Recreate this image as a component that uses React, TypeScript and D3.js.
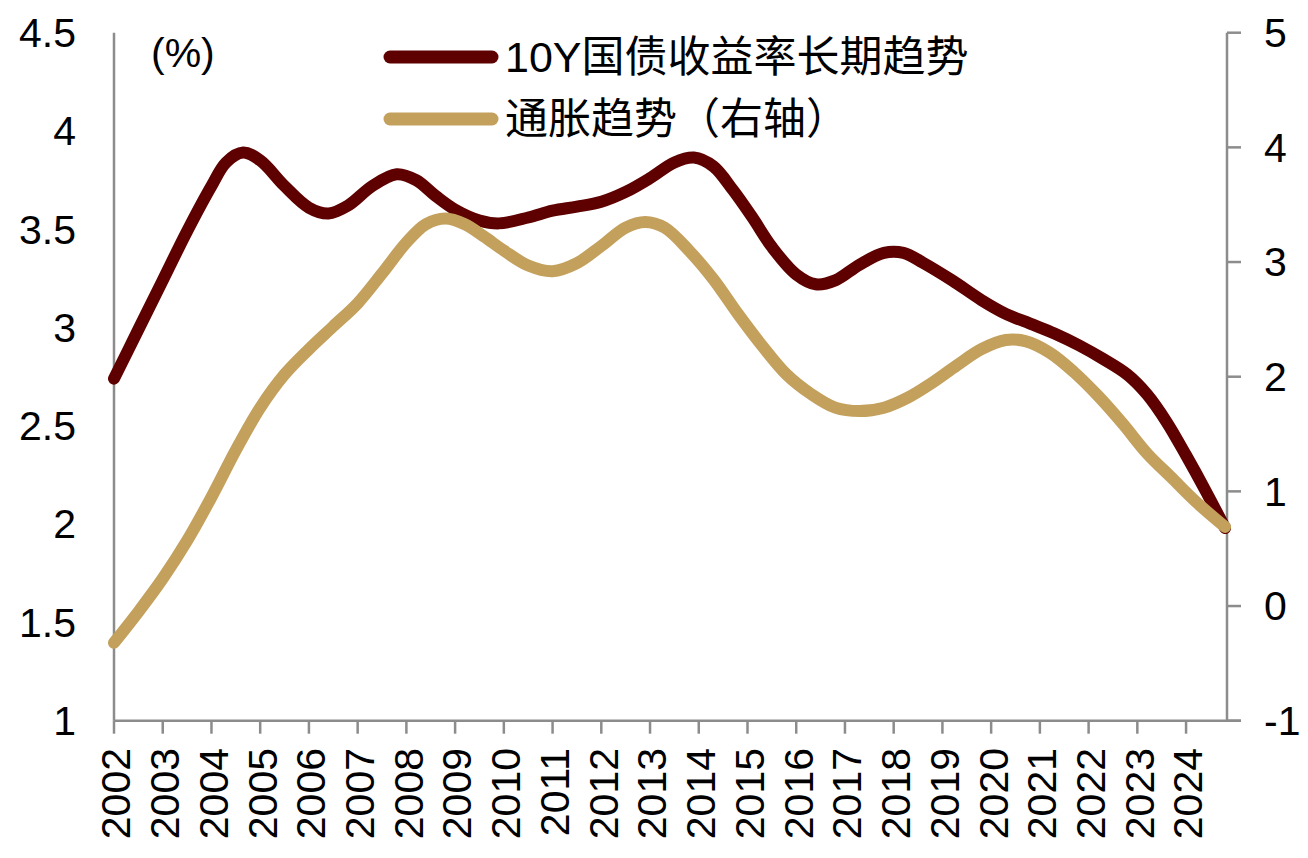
import React, { useEffect, useRef } from 'react';
import * as d3 from 'd3';

// 10Y government bond yield trend (left axis, %)
const yieldYears = [
  2002.0, 2002.5, 2003.0, 2003.5, 2004.0, 2004.3, 2004.65, 2005.0, 2005.5, 2006.0,
  2006.4, 2006.8, 2007.3, 2007.8, 2008.2, 2008.6, 2009.0, 2009.5, 2009.9, 2010.5,
  2011.0, 2011.5, 2012.0, 2012.5, 2013.0, 2013.5, 2013.9, 2014.3, 2014.7, 2015.1,
  2015.5, 2016.0, 2016.4, 2016.8, 2017.3, 2017.8, 2018.2, 2018.6, 2019.2, 2019.8,
  2020.3, 2020.8, 2021.3, 2021.8, 2022.3, 2022.8, 2023.2, 2023.6, 2024.0, 2024.4,
  2024.8,
];
const yieldValues = [
  2.74, 2.99, 3.24, 3.49, 3.72, 3.84, 3.89, 3.85, 3.72, 3.61,
  3.58, 3.62, 3.72, 3.78, 3.75, 3.67, 3.6, 3.545, 3.53, 3.56,
  3.595, 3.615, 3.64, 3.69, 3.76, 3.84, 3.865, 3.82, 3.7, 3.56,
  3.41, 3.27, 3.22, 3.24, 3.32, 3.38, 3.38, 3.33, 3.24, 3.14,
  3.07, 3.02, 2.97, 2.91, 2.84, 2.76, 2.66, 2.52, 2.35, 2.17,
  1.98,
];

// inflation trend (right axis)
const inflYears = [
  2002.0, 2002.5, 2003.0, 2003.5, 2004.0, 2004.5, 2005.0, 2005.5, 2006.0, 2006.5,
  2007.0, 2007.5, 2008.0, 2008.4, 2008.8, 2009.2, 2009.6, 2010.0, 2010.5, 2011.0,
  2011.5, 2012.0, 2012.5, 2012.9, 2013.3, 2013.8, 2014.3, 2014.8, 2015.3, 2015.8,
  2016.3, 2016.8, 2017.3, 2017.8, 2018.3, 2018.8, 2019.3, 2019.8, 2020.3, 2020.7,
  2021.2, 2021.7, 2022.2, 2022.7, 2023.2, 2023.7, 2024.2, 2024.8,
];
const inflValues = [
  -0.32, -0.05, 0.24, 0.57, 0.95, 1.36, 1.73, 2.02, 2.24, 2.44,
  2.64, 2.9, 3.17, 3.33, 3.38, 3.33, 3.22, 3.1, 2.97, 2.92,
  2.99, 3.14, 3.3, 3.35, 3.3, 3.1, 2.85, 2.55, 2.27, 2.02,
  1.85, 1.73, 1.7, 1.73, 1.82, 1.95, 2.1, 2.24, 2.32, 2.31,
  2.21, 2.04, 1.83, 1.59, 1.33, 1.12, 0.91, 0.69,
];

const yearTicks = d3.range(2002, 2025);
const leftTicks = [1, 1.5, 2, 2.5, 3, 3.5, 4, 4.5];
const rightTicks = [-1, 0, 1, 2, 3, 4, 5];

const legendLabels = ['10Y国债收益率长期趋势', '通胀趋势（右轴）'];
const colors = ['#5f0000', '#c3a05c'];

const FONT = '"Liberation Sans", Arial, "Noto Sans CJK SC", sans-serif';

export default function App() {
  const svgRef = useRef<SVGSVGElement>(null);

  useEffect(() => {
    if (!svgRef.current) return;
    const width = 1308;
    const height = 858;
    const svg = d3.select(svgRef.current)
      .attr('width', width)
      .attr('height', height)
      .style('font-family', FONT);
    svg.selectAll('*').remove();

    const left = 114, right = 1227, top = 32.7, bottom = 720.7;
    const x = d3.scaleLinear().domain([2002, 2024.84]).range([left, right]);
    const yL = d3.scaleLinear().domain([1, 4.5]).range([bottom, top]);
    const yR = d3.scaleLinear().domain([-1, 5]).range([bottom, top]);
    const axisColor = '#8c8c8c';

    // axes
    svg.append('line').attr('x1', left).attr('x2', left).attr('y1', top).attr('y2', bottom)
      .attr('stroke', axisColor).attr('stroke-width', 2.5);
    svg.append('line').attr('x1', right).attr('x2', right).attr('y1', top).attr('y2', bottom)
      .attr('stroke', axisColor).attr('stroke-width', 2.5);
    svg.append('line').attr('x1', left).attr('x2', right + 14).attr('y1', bottom).attr('y2', bottom)
      .attr('stroke', axisColor).attr('stroke-width', 2.5);

    // right ticks
    svg.selectAll('.rtick').data(rightTicks).enter().append('line')
      .attr('x1', right).attr('x2', right + 14)
      .attr('y1', d => yR(d)).attr('y2', d => yR(d))
      .attr('stroke', axisColor).attr('stroke-width', 2.5);
    svg.selectAll('.rlab').data(rightTicks).enter().append('text')
      .attr('x', 1264).attr('y', d => yR(d)).attr('dy', '0.35em')
      .style('font-size', '41px').attr('fill', '#000')
      .text(d => String(d));

    // left labels
    svg.selectAll('.llab').data(leftTicks).enter().append('text')
      .attr('x', 76).attr('y', d => yL(d)).attr('dy', '0.35em')
      .attr('text-anchor', 'end')
      .style('font-size', '41px').attr('fill', '#000')
      .text(d => String(d));

    // bottom ticks and labels
    svg.selectAll('.btick').data(yearTicks).enter().append('line')
      .attr('x1', d => x(d)).attr('x2', d => x(d))
      .attr('y1', bottom).attr('y2', bottom + 13)
      .attr('stroke', axisColor).attr('stroke-width', 2.5);
    svg.selectAll('.blab').data(yearTicks).enter().append('text')
      .attr('transform', d => `translate(${x(d) + 2},748) rotate(-90)`)
      .attr('text-anchor', 'end').attr('dy', '0.35em')
      .style('font-size', '41px').attr('fill', '#000')
      .text(d => String(d));

    // unit
    svg.append('text').attr('x', 151).attr('y', 67)
      .style('font-size', '41px').attr('fill', '#000').text('(%)');

    // lines
    const curve = d3.curveCatmullRom.alpha(0.5);
    const yieldLine = d3.line<number>()
      .x((_, i) => x(yieldYears[i]))
      .y(d => yL(d))
      .curve(curve);
    const inflLine = d3.line<number>()
      .x((_, i) => x(inflYears[i]))
      .y(d => yR(d))
      .curve(curve);

    svg.append('path').attr('d', yieldLine(yieldValues) as string)
      .attr('fill', 'none').attr('stroke', colors[0]).attr('stroke-width', 12)
      .attr('stroke-linejoin', 'round').attr('stroke-linecap', 'round');
    svg.append('path').attr('d', inflLine(inflValues) as string)
      .attr('fill', 'none').attr('stroke', colors[1]).attr('stroke-width', 12)
      .attr('stroke-linejoin', 'round').attr('stroke-linecap', 'round');

    // legend
    const legendY = [57, 119];
    legendLabels.forEach((label, i) => {
      svg.append('line')
        .attr('x1', 390).attr('x2', 492)
        .attr('y1', legendY[i]).attr('y2', legendY[i])
        .attr('stroke', colors[i]).attr('stroke-width', 13)
        .attr('stroke-linecap', 'round');
      svg.append('text')
        .attr('x', 505).attr('y', legendY[i]).attr('dy', '0.36em')
        .style('font-size', '43px').attr('fill', '#000')
        .text(label);
    });
  }, []);

  return (
    <div>
      <style>{`body{margin:0;background:#fff}`}</style>
      <svg ref={svgRef}></svg>
    </div>
  );
}
